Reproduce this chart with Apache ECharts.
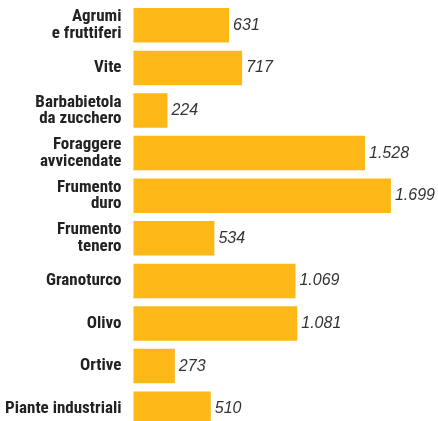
<!DOCTYPE html>
<html>
<head>
<meta charset="utf-8">
<script src="https://cdn.jsdelivr.net/npm/echarts@6/dist/echarts.min.js"></script>
<style>
  html, body { margin: 0; padding: 0; background: #fff; }
  #chart { width: 438px; height: 421px; }
</style>
</head>
<body>
<div id="chart"></div>
<script>
// Colture: superficie per tipo di coltivazione
const categories = [
  'Agrumi\ne fruttiferi',
  'Vite',
  'Barbabietola\nda zucchero',
  'Foraggere\navvicendate',
  'Frumento\nduro',
  'Frumento\ntenero',
  'Granoturco',
  'Olivo',
  'Ortive',
  'Piante industriali'
];
const values = [631, 717, 224, 1528, 1699, 534, 1069, 1081, 273, 510];

// Italian-style thousands separator (1.528)
function fmt(v) {
  return String(v).replace(/\B(?=(\d{3})+(?!\d))/g, '.');
}

const chart = echarts.init(document.getElementById('chart'));
chart.setOption({
  animation: false,
  grid: {
    left: 133.5, top: 4, width: 303, height: 426,
    containLabel: false,
    outerBoundsMode: 'none'
  },
  xAxis: {
    type: 'value',
    min: 0,
    max: 2000,
    show: false
  },
  yAxis: {
    type: 'category',
    data: categories,
    inverse: true,
    axisLine: { show: false },
    axisTick: { show: false },
    splitLine: { show: false },
    axisLabel: {
      margin: 12,
      color: '#222',
      fontFamily: '"Roboto Condensed", "Open Sans Condensed", sans-serif',
      fontWeight: 'bold',
      fontSize: 17,
      lineHeight: 16.5,
      padding: [4, 0, 0, 0],
      align: 'right'
    }
  },
  series: [{
    type: 'bar',
    data: values,
    barWidth: '81%',
    itemStyle: { color: '#FBB817' },
    label: {
      show: true,
      position: 'right',
      distance: 4,
      color: '#333',
      fontFamily: '"Liberation Sans", Arial, sans-serif',
      fontStyle: 'italic',
      fontSize: 16,
      padding: [2, 0, 0, 0],
      formatter: p => fmt(p.value)
    }
  }]
});
</script>
</body>
</html>
